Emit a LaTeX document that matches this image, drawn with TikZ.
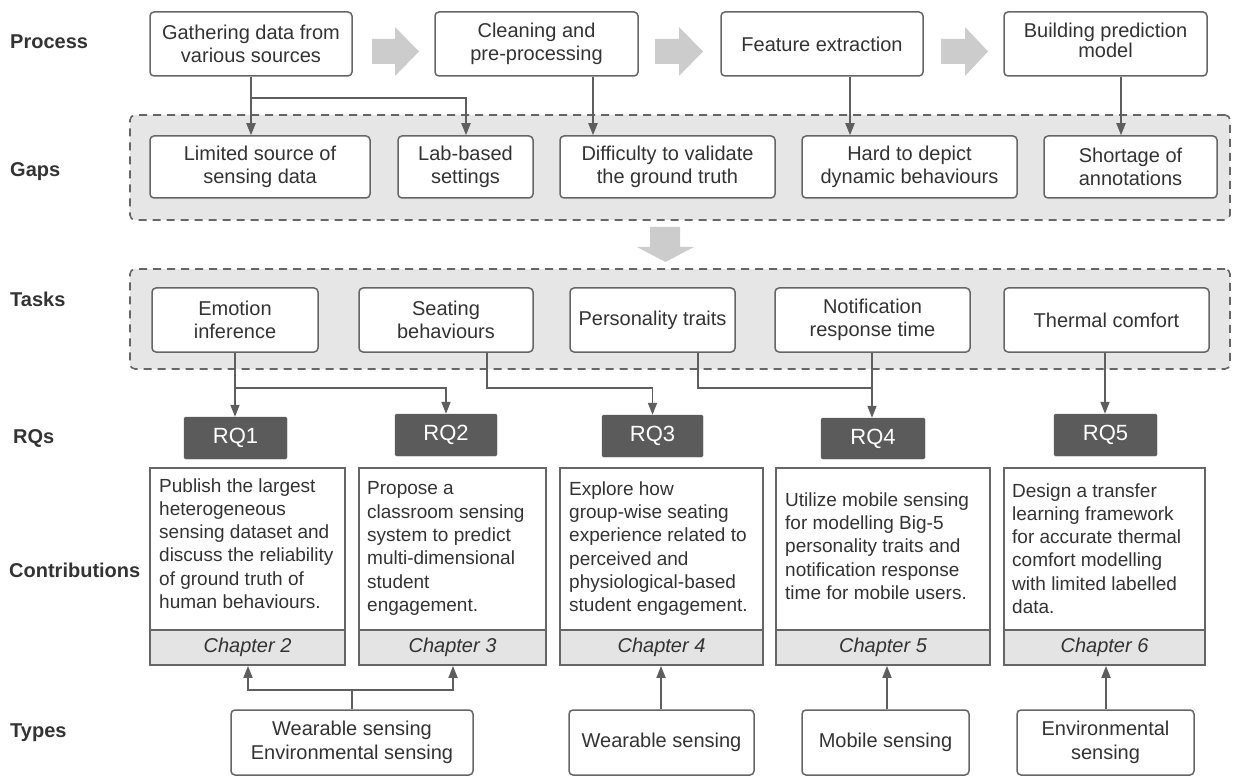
\documentclass[tikz,border=0pt]{standalone}
\usepackage{fontspec}
\setmainfont{Liberation Sans}
\usetikzlibrary{arrows.meta}
\definecolor{bord}{HTML}{666666}
\definecolor{lin}{HTML}{5E5E5E}
\definecolor{contc}{HTML}{E6E6E6}
\definecolor{chapc}{HTML}{E4E4E4}
\definecolor{blk}{HTML}{CCCCCC}
\definecolor{rqc}{HTML}{5B5B5B}
\definecolor{txt}{HTML}{333333}
\newcommand{\boxat}[7]{\node[#1, minimum width={#4pt-#2pt}, minimum height={#5pt-#3pt}] (#6) at ({(#2+#4)/2},{(#3+#5)/2}) {#7};}
\begin{document}
\begin{tikzpicture}[x=1pt,y=-1pt,
  every node/.style={text=txt},
  lbl/.style={font=\bfseries\fontsize{20}{24}\selectfont, anchor=west, inner sep=0pt},
  pbox/.style={draw=bord, line width=1.5pt, fill=white, rounded corners=4pt, align=center, inner sep=0pt, font=\fontsize{20}{23.5}\selectfont},
  contbox/.style={draw=bord, line width=1.6pt, dash pattern=on 8pt off 6pt, fill=contc, rounded corners=5pt, inner sep=0pt},
  rq/.style={fill=rqc, draw=rqc, rounded corners=1.5pt, text=white, font=\fontsize{22}{26}\selectfont, inner sep=0pt},
  ctop/.style={draw=bord, line width=1.8pt, fill=white, inner sep=0pt},
  cbot/.style={draw=bord, line width=1.8pt, fill=chapc, inner sep=0pt, font=\itshape\fontsize{20}{24}\selectfont},
  ctext/.style={anchor=west, align=left, inner sep=0pt, font=\fontsize{19}{23.3}\selectfont},
  conn/.style={draw=lin, line width=1.8pt},
  arr/.style={conn, -{Triangle[length=12pt,width=9pt]}},
  blkarrow/.style={fill=blk, draw=none},
]
\useasboundingbox (0,0) rectangle (1235,778);

% row labels
\node[lbl] (lproc) at (10,42) {Process};
\node[lbl] (lgaps) at (10,172) {Gaps};
\node[lbl] (ltask) at (10,299) {Tasks};
\node[lbl] (lrqs) at (13,438) {RQs};
\node[lbl] (lcont) at (9,570) {Contributions};
\node[lbl] (ltype) at (10,733) {Types};

% containers
\boxat{contbox}{130}{115}{1230}{220}{gapc}{}
\boxat{contbox}{130}{269}{1230}{369}{taskc}{}

% block arrows
\fill[blkarrow] (372,39) -- (395,39) -- (395,27) -- (419,51.5) -- (395,76) -- (395,64) -- (372,64) -- cycle;
\fill[blkarrow] (655,39) -- (679,39) -- (679,27) -- (703,51.5) -- (679,76) -- (679,64) -- (655,64) -- cycle;
\fill[blkarrow] (941,39) -- (965,39) -- (965,27) -- (988,51.5) -- (965,76) -- (965,64) -- (941,64) -- cycle;
\fill[blkarrow] (650,227) -- (680,227) -- (680,247) -- (694,247) -- (665.5,262) -- (637,247) -- (650,247) -- cycle;

% process boxes
\boxat{pbox}{150}{12}{352}{76}{p1}{Gathering data from\\various sources}
\boxat{pbox}{435}{12}{638}{76}{p2}{Cleaning and\\pre-processing}
\boxat{pbox}{721}{12}{923}{76}{p3}{Feature extraction}
\boxat{pbox, font=\fontsize{20}{20.5}\selectfont}{1004}{12}{1207}{76}{p4}{Building prediction\\model\rule[-7pt]{0pt}{1pt}}

% gap boxes
\boxat{pbox}{150}{136}{370}{198}{g1}{Limited source of\\sensing data}
\boxat{pbox}{398}{136}{533}{198}{g2}{Lab-based\\settings}
\boxat{pbox}{560}{136}{775}{198}{g3}{Difficulty to validate\\the ground truth}
\boxat{pbox}{802}{136}{1017}{198}{g4}{Hard to depict\\dynamic behaviours}
\boxat{pbox}{1044}{136}{1217}{198}{g5}{Shortage of\\annotations}

% task boxes
\boxat{pbox}{152}{288}{318}{352}{t1}{Emotion\\inference}
\boxat{pbox}{359}{288}{533}{352}{t2}{Seating\\behaviours}
\boxat{pbox}{570}{288}{735}{352}{t3}{Personality traits}
\boxat{pbox}{775}{288}{970}{352}{t4}{Notification\\response time}
\boxat{pbox}{1004}{288}{1209}{352}{t5}{Thermal comfort}

% RQ boxes
\boxat{rq}{184}{417}{287}{459}{r1}{RQ1}
\boxat{rq}{395}{414}{497}{456}{r2}{RQ2}
\boxat{rq}{602}{415}{703}{457}{r3}{RQ3}
\boxat{rq}{821}{418}{925}{459}{r4}{RQ4}
\boxat{rq}{1054}{414}{1157}{456}{r5}{RQ5}

% contribution boxes
\boxat{ctop}{150}{468}{345}{630}{c1t}{}
\boxat{cbot}{150}{630}{345}{665}{c1b}{Chapter 2}
\boxat{ctop}{359}{468}{546}{630}{c2t}{}
\boxat{cbot}{359}{630}{546}{665}{c2b}{Chapter 3}
\boxat{ctop}{560}{468}{763}{630}{c3t}{}
\boxat{cbot}{560}{630}{763}{665}{c3b}{Chapter 4}
\boxat{ctop}{776}{468}{990}{630}{c4t}{}
\boxat{cbot}{776}{630}{990}{665}{c4b}{Chapter 5}
\boxat{ctop}{1004}{468}{1205}{630}{c5t}{}
\boxat{cbot}{1004}{630}{1205}{665}{c5b}{Chapter 6}

\node[ctext] (c1x) at (159,543.5) {Publish the largest\\heterogeneous\\sensing dataset and\\discuss the reliability\\of ground truth of\\human behaviours.};
\node[ctext] (c2x) at (367,548.5) {Propose a\\classroom sensing\\system to predict\\multi-dimensional\\student\\engagement.};
\node[ctext] (c3x) at (569,548.5) {Explore how\\group-wise seating\\experience related to\\perceived and\\physiological-based\\student engagement.};
\node[ctext] (c4x) at (785,546) {Utilize mobile sensing\\for modelling Big-5\\personality traits and\\notification response\\time for mobile users.};
\node[ctext] (c5x) at (1012,548.5) {Design a transfer\\learning framework\\for accurate thermal\\comfort modelling\\with limited labelled\\data.};

% type boxes
\boxat{pbox}{231}{710}{473}{775}{ty1}{Wearable sensing\\Environmental sensing}
\boxat{pbox}{569}{710}{754}{775}{ty2}{Wearable sensing}
\boxat{pbox}{802}{710}{969}{775}{ty3}{Mobile sensing}
\boxat{pbox}{1017}{710}{1194}{775}{ty4}{Environmental\\sensing}

% x positions of connectors
\coordinate (xA) at (251,0);
\coordinate (xB) at (593,0);
\coordinate (xC) at (850,0);
\coordinate (xD) at (1121,0);
\coordinate (xE) at (235,0);
\coordinate (xF) at (487,0);
\coordinate (xG) at (698,0);
\coordinate (xH) at (872,0);
\coordinate (xI) at (1105,0);
\coordinate (xJ) at (248,0);
\coordinate (xK) at (453,0);
\coordinate (xL) at (661,0);
\coordinate (xM) at (887,0);
\coordinate (xN) at (1106,0);
\coordinate (jA) at (251,98);
\coordinate (jE) at (235,388);
\coordinate (jF) at (487,388);
\coordinate (jG) at (698,388);
\coordinate (jH) at (872,388);
\coordinate (jT) at (352,690);

% process -> gaps
\draw[arr] (p1.south -| xA) -- (g1.north -| xA);
\draw[arr] (jA) -| (g2.north -| {(466,0)});
\draw[arr] (p2.south -| xB) -- (g3.north -| xB);
\draw[arr] (p3.south -| xC) -- (g4.north -| xC);
\draw[arr] (p4.south -| xD) -- (g5.north -| xD);

% tasks -> RQs
\draw[arr] (t1.south -| xE) -- (r1.north -| xE);
\draw[arr] (jE) -| (r2.north);
\draw[arr] (t2.south -| xF) -- (jF) -| (r3.north);
\draw[conn] (t3.south -| xG) -- (jG) -- (jH);
\draw[arr] (t4.south -| xH) -- (r4.north -| xH);
\draw[arr] (t5.south -| xI) -- (r5.north -| xI);

% types -> contributions
\draw[conn] (ty1.north) -- (jT);
\draw[arr] (jT) -| (c1b.south -| xJ);
\draw[arr] (jT) -| (c2b.south -| xK);
\draw[arr] (ty2.north -| xL) -- (c3b.south -| xL);
\draw[arr] (ty3.north -| xM) -- (c4b.south -| xM);
\draw[arr] (ty4.north -| xN) -- (c5b.south -| xN);
\end{tikzpicture}
\end{document}
